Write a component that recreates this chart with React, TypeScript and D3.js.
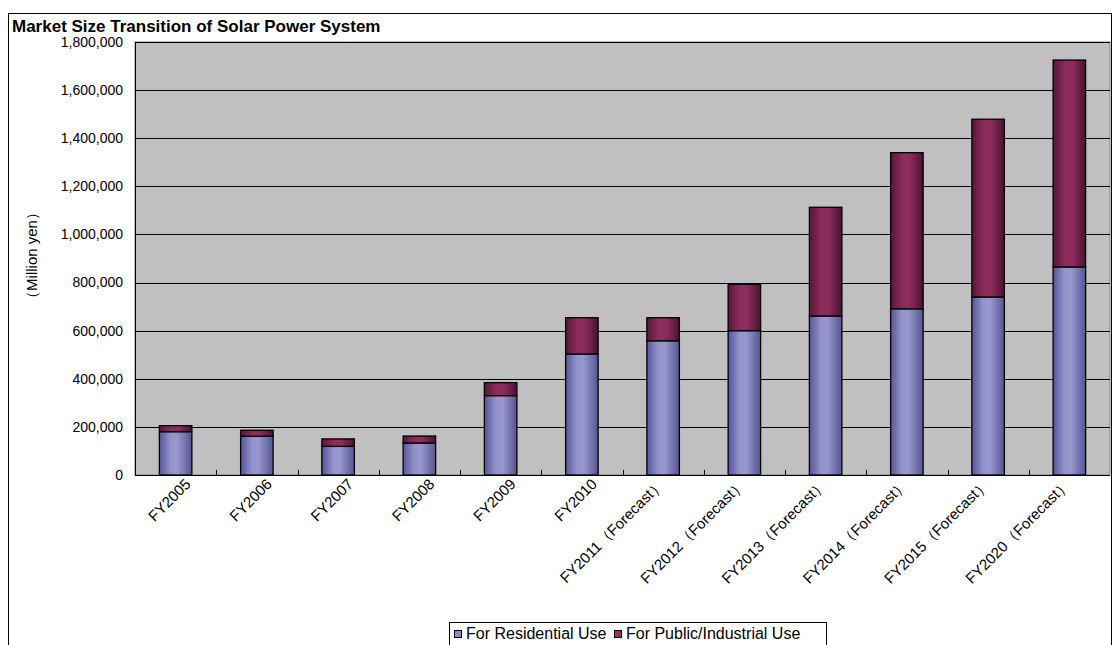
import React from "react";
import * as d3 from "d3";

const categories = [
  "FY2005", "FY2006", "FY2007", "FY2008", "FY2009", "FY2010",
  "FY2011（Forecast）", "FY2012（Forecast）", "FY2013（Forecast）",
  "FY2014（Forecast）", "FY2015（Forecast）", "FY2020（Forecast）",
];
const residential = [180000, 161000, 119000, 133000, 330000, 503000, 558000, 600000, 661000, 691000, 740000, 865000];
const publicIndustrial = [25000, 25000, 31000, 29000, 54000, 151000, 96000, 193000, 452000, 649000, 739000, 860000];
const yTicks = [0, 200000, 400000, 600000, 800000, 1000000, 1200000, 1400000, 1600000, 1800000];
const seriesNames = ["For Residential Use", "For Public/Industrial Use"];

const W = 1113, H = 645;
const plot = { left: 135, right: 1110, top: 42, bottom: 475 };
const FONT = "Arial, 'Liberation Sans', sans-serif";

export default function App() {
  const x = d3.scaleBand<string>().domain(categories).range([plot.left, plot.right]).paddingInner(0.6).paddingOuter(0.3);
  const band = d3.scaleBand<string>().domain(categories).range([plot.left, plot.right]);
  const y = d3.scaleLinear().domain([0, 1800000]).range([plot.bottom, plot.top]);
  const fmt = d3.format(",");

  const stacked = categories.map((c, i) => ({
    c,
    r0: 0, r1: residential[i],
    p0: residential[i], p1: residential[i] + publicIndustrial[i],
  }));

  return (
    <svg width={W} height={H} style={{ position: "absolute", left: 0, top: 0, fontFamily: FONT }}>
      <defs>
        <linearGradient id="gRes" x1="0" x2="1" y1="0" y2="0">
          <stop offset="0%" stopColor="#55559a" />
          <stop offset="35%" stopColor="#9393cc" />
          <stop offset="55%" stopColor="#9898ce" />
          <stop offset="100%" stopColor="#545494" />
        </linearGradient>
        <linearGradient id="gPub" x1="0" x2="1" y1="0" y2="0">
          <stop offset="0%" stopColor="#551837" />
          <stop offset="38%" stopColor="#8e2c5e" />
          <stop offset="60%" stopColor="#8c2b5c" />
          <stop offset="100%" stopColor="#4a1230" />
        </linearGradient>
      </defs>
      <rect x={0} y={0} width={W} height={H} fill="#fff" />
      {/* outer frame */}
      <rect x={8.5} y={13.5} width={1103} height={700} fill="#fff" stroke="#000" strokeWidth={1} />
      <text x={12} y={32} fontSize={17} fontWeight="bold" fill="#000">Market Size Transition of Solar Power System</text>

      {/* plot area */}
      <rect x={plot.left} y={plot.top} width={plot.right - plot.left} height={plot.bottom - plot.top} fill="#c0c0c0" stroke="#808080" strokeWidth={1} />
      {yTicks.filter(t => t > 0).map(t => (
        <line key={t} x1={plot.left} x2={plot.right} y1={Math.round(y(t)) + 0.5} y2={Math.round(y(t)) + 0.5} stroke="#000" strokeWidth={1} />
      ))}

      {/* bars */}
      {stacked.map(d => (
        <g key={d.c}>
          <rect x={x(d.c)} y={y(d.r1)} width={x.bandwidth()} height={y(d.r0) - y(d.r1)} fill="url(#gRes)" stroke="#000" strokeWidth={1.3} />
          <rect x={x(d.c)} y={y(d.p1)} width={x.bandwidth()} height={y(d.p0) - y(d.p1)} fill="url(#gPub)" stroke="#000" strokeWidth={1.3} />
        </g>
      ))}

      {/* x axis */}
      <line x1={plot.left} x2={plot.right} y1={plot.bottom + 0.5} y2={plot.bottom + 0.5} stroke="#000" strokeWidth={1} />
      <line x1={plot.left + 0.5} x2={plot.left + 0.5} y1={plot.top} y2={plot.bottom} stroke="#000" strokeWidth={1} />
      {categories.slice(1).map(c => (
        <line key={c} x1={Math.round(band(c)!) + 0.5} x2={Math.round(band(c)!) + 0.5} y1={plot.bottom} y2={plot.bottom - 5} stroke="#000" strokeWidth={1} />
      ))}
      {categories.map(c => {
        const forecast = c.includes("（");
        const cx = band(c)! + band.bandwidth() / 2 + (forecast ? 2 : 16);
        return (
          <text key={c} transform={`translate(${cx},${plot.bottom + 10}) rotate(-45)`} textAnchor="end" fontSize={15} fill="#000">{c}</text>
        );
      })}

      {/* y axis labels */}
      {yTicks.map(t => (
        <text key={t} x={123} y={y(t)} dy="0.35em" textAnchor="end" fontSize={14} fill="#000">{fmt(t)}</text>
      ))}
      <text transform={`translate(37,${(plot.top + plot.bottom) / 2 - 3}) rotate(-90)`} textAnchor="middle" fontSize={15} fill="#000">（Million yen）</text>

      {/* legend */}
      <rect x={449.5} y={622.5} width={377} height={40} fill="#fff" stroke="#000" strokeWidth={1} />
      <rect x={454.5} y={630.5} width={7} height={7} fill="#8b8bd0" stroke="#000" strokeWidth={1} />
      <text x={466} y={639} fontSize={16} fill="#000">{seriesNames[0]}</text>
      <rect x={614.5} y={630.5} width={7} height={7} fill="#993366" stroke="#000" strokeWidth={1} />
      <text x={626} y={639} fontSize={16} fill="#000">{seriesNames[1]}</text>
    </svg>
  );
}
